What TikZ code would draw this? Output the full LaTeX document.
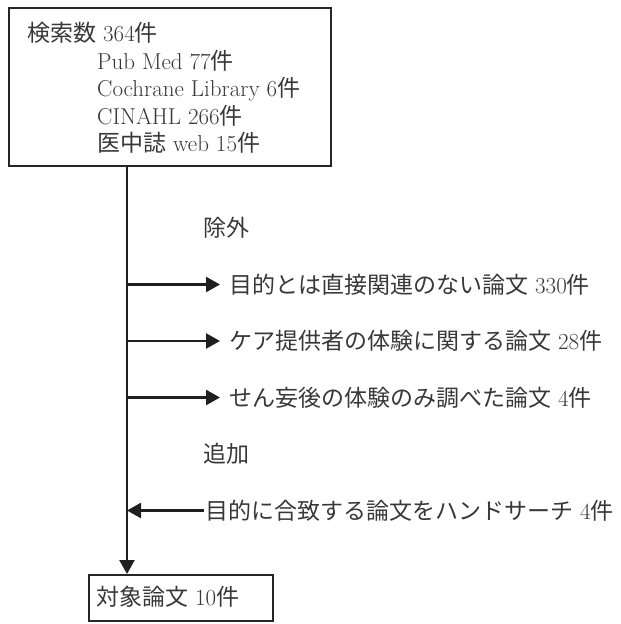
\documentclass[tikz,border=0pt]{standalone}
\usepackage{fontspec}
\newfontfamily\jpf{Noto Sans CJK JP}
\newcommand\J[1]{{\jpf #1}}
\usetikzlibrary{arrows.meta}
\begin{document}
\begin{tikzpicture}[x=1pt,y=-1pt,
  font=\fontsize{23}{27.6}\selectfont,
  boxstyle/.style={draw=black!85, line width=1.8pt, rectangle, inner sep=0pt},
  txt/.style={anchor=base west, inner sep=0pt, text=black!78},
  lab/.style={anchor=west, inner sep=0pt, inner xsep=9pt, text=black!78},
  conn/.style={draw=black!88, line width=2.4pt},
  arr/.style={conn, -{Triangle[length=14pt,width=15pt]}}]
\useasboundingbox (0,0) rectangle (621,624);
% top box
\node[boxstyle, minimum width=322pt, minimum height=158pt, anchor=north west] (top) at (8,7) {};
\node[txt] (t1) at (27,41.5) {\J{検索数} 364\J{件}};
\node[txt] (t2) at (97,69) {Pub Med 77\J{件}};
\node[txt] (t3) at (97,96.5) {Cochrane Library 6\J{件}};
\node[txt] (t4) at (97,124) {CINAHL 266\J{件}};
\node[txt] (t5) at (97,151.5) {\J{医中誌} web 15\J{件}};
% bottom box
\node[boxstyle, minimum width=184pt, minimum height=46pt, anchor=north west] (bot) at (88,574) {};
\node[txt] (bt) at (96,605.5) {\J{対象論文} 10\J{件}};
% labels
\node[lab, inner xsep=0pt] (ex) at (203,228) {\J{除外}};
\node[lab] (e1) at (220,284.5) {\J{目的とは直接関連のない論文} 330\J{件}};
\node[lab] (e2) at (220,341) {\J{ケア提供者の体験に関する論文} 28\J{件}};
\node[lab] (e3) at (220,397.5) {\J{せん妄後の体験のみ調べた論文} 4\J{件}};
\node[lab, inner xsep=0pt] (ad) at (203,454) {\J{追加}};
\node[lab, inner xsep=1pt] (h1) at (204,510.5) {\J{目的に合致する論文をハンドサーチ} 4\J{件}};
% connectors
\coordinate (vt) at (127,165);
\coordinate (vb) at (127,574);
\draw[arr] (vt) -- (vb);
\coordinate (b1) at (127,284.5);
\coordinate (b2) at (127,341);
\coordinate (b3) at (127,397.5);
\coordinate (b4) at (127,510.5);
\draw[arr] (b1) -- (e1.west);
\draw[arr] (b2) -- (e2.west);
\draw[arr] (b3) -- (e3.west);
\draw[arr] (h1.west) -- (b4);
\end{tikzpicture}
\end{document}
